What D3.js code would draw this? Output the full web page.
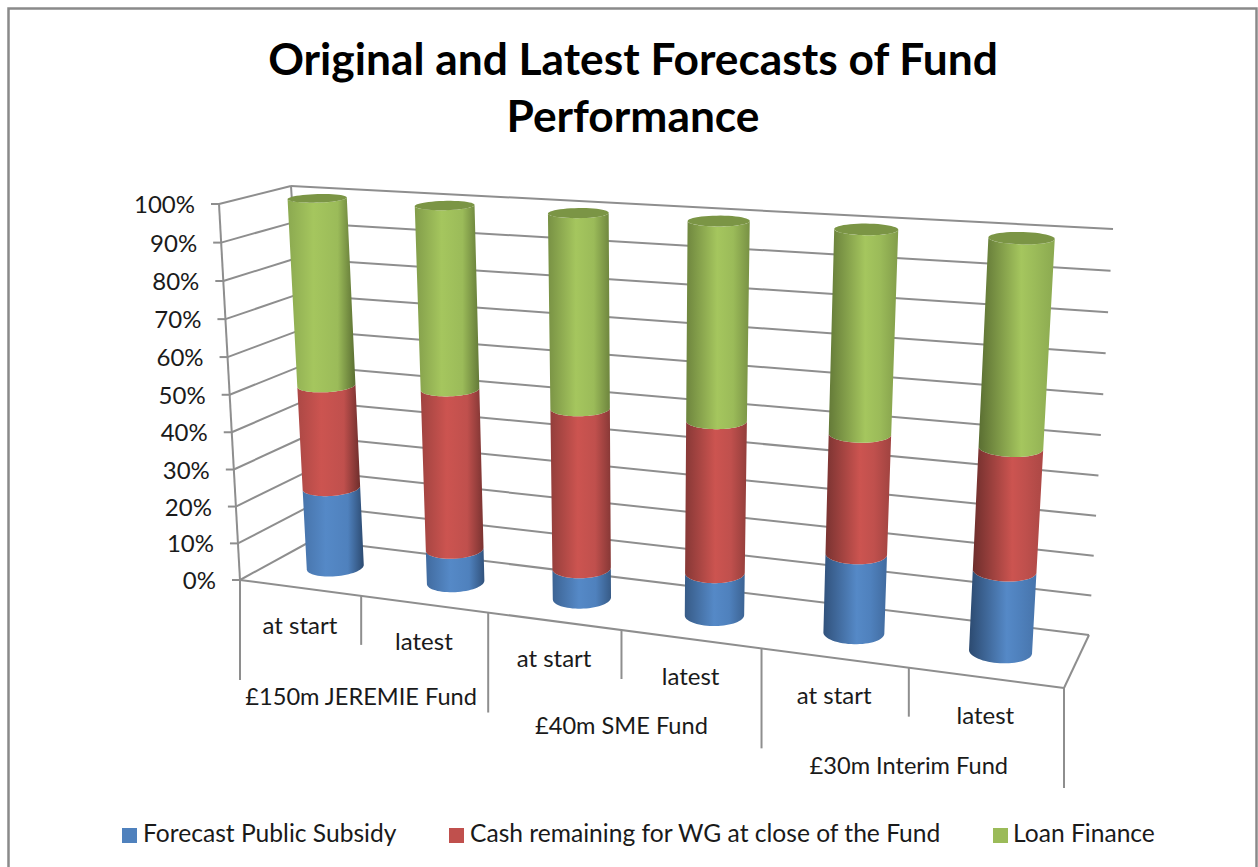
<!DOCTYPE html>
<html>
<head>
<meta charset="utf-8">
<script src="https://cdn.jsdelivr.net/npm/d3@7"></script>
<style>
  html, body { margin: 0; padding: 0; background: #fff; }
  text { font-family: Lato, "Open Sans", sans-serif; fill: #1a1a1a; }
</style>
</head>
<body>
<div id="chart-area"></div>
<script>
// values
var categories = ["at start", "latest", "at start", "latest", "at start", "latest"];
var groups = ["£150m JEREMIE Fund", "£40m SME Fund", "£30m Interim Fund"];
var seriesNames = ["Forecast Public Subsidy", "Cash remaining for WG at close of the Fund", "Loan Finance"];
var subsidy = [22, 9, 8, 11, 20, 20];
var cash = [28, 43, 42, 39, 30, 30];
var loan = [50, 48, 50, 50, 50, 50];
var valueTicks = [0, 10, 20, 30, 40, 50, 60, 70, 80, 90, 100];

var width = 1258, height = 867;

var svg = d3.select("#chart-area")
  .append("svg")
    .attr("width", width)
    .attr("height", height)
    .style("display", "block");

// corners of the 3d box on screen [u, v, depth]
var corners = {
  fb0: [240, 580], fb1: [1064, 688],
  bb0: [313, 540], bb1: [1089, 635],
  ft0: [219, 204], ft1: [1091, 257],
  bt0: [291, 186], bt1: [1113, 229]
};

var x = d3.scaleLinear().domain([0, 6]).range([0, 1]);
var y = d3.scaleLinear().domain([0, 100]).range([0, 1]);

// perspective squeeze along an edge
function warp(t, w) { return t / (t + (1 - t) * w); }
function mix(a, b, t) { return [a[0] + (b[0] - a[0]) * t, a[1] + (b[1] - a[1]) * t]; }

function project(cat, val, d) {
  var u = warp(x(cat), 1.16);
  var v = warp(y(val), 1.03);
  var front = mix(mix(corners.fb0, corners.fb1, u), mix(corners.ft0, corners.ft1, u), v);
  var back = mix(mix(corners.bb0, corners.bb1, u), mix(corners.bt0, corners.bt1, u), v);
  return mix(front, back, d);
}

var lineStyle = "#8e8e8e";
function seg(a, b, w) {
  svg.append("line")
    .attr("x1", a[0]).attr("y1", a[1])
    .attr("x2", b[0]).attr("y2", b[1])
    .attr("stroke", lineStyle)
    .attr("stroke-width", w || 2);
}

// chart frame
svg.append("path")
  .attr("d", "M8.5,867V8.5H1256.5V867")
  .attr("fill", "none")
  .attr("stroke", "#8a8a8a")
  .attr("stroke-width", 2.5);

// walls
valueTicks.forEach(function(t) {
  seg(project(0, t, 0), project(0, t, 1));
  seg(project(0, t, 1), project(6, t, 1));
  var p = project(0, t, 0);
  seg([p[0] - 8, p[1]], p);
  svg.append("text")
    .attr("x", p[0] - 24)
    .attr("y", p[1] + 9)
    .attr("text-anchor", "end")
    .attr("font-size", 24)
    .text(t + "%");
});
seg(project(0, 0, 0), project(0, 100, 0));
seg(project(0, 0, 1), project(0, 100, 1));
seg(project(0, 0, 0), project(6, 0, 0));
seg(project(6, 0, 0), project(6, 0, 1));

// category dividers under the floor
d3.range(0, 7).forEach(function(i) {
  var p = project(i, 0, 0);
  seg(p, [p[0], p[1] + (i % 2 == 0 ? 100 : 49)]);
});

categories.forEach(function(c, i) {
  var p = project(i + 0.5, 0, 0);
  svg.append("text")
    .attr("x", p[0])
    .attr("y", p[1] + 46)
    .attr("text-anchor", "middle")
    .attr("font-size", 24)
    .text(c);
});
var groupDrop = [109, 104, 106];
groups.forEach(function(g, i) {
  var p = project(i * 2 + 1, 0, 0);
  svg.append("text")
    .attr("x", p[0])
    .attr("y", p[1] + groupDrop[i])
    .attr("text-anchor", "middle")
    .attr("font-size", 23.6)
    .text(g);
});

// cylinders
var colors = ["#4f81bd", "#c0504d", "#9bbb59"];
var brights = ["#5589c7", "#cc5450", "#a5c65e"];
var darks = ["#2c4a70", "#6e2e2c", "#5a6e32"];
var topColor = "#7b9545";
var stacks = [subsidy, cash, loan];
var radius = 0.205;  // in category units
var depthRadius = 0.22;
var depthCentre = 0.51;
var defs = svg.append("defs");
var pathLine = d3.line();

function arc(i, val, from, to) {
  return d3.range(0, 49).map(function(k) {
    var a = from + (to - from) * k / 48;
    return project(i + 0.5 + radius * Math.cos(a), val, depthCentre - depthRadius * Math.sin(a));
  });
}

// front of the ellipse only, cut at its leftmost and rightmost points so the
// stacked pieces keep one clean outline
function frontArc(i, val) {
  var pts = arc(i, val, Math.PI + 0.7, -0.7);
  var l = d3.leastIndex(pts, function(p) { return p[0]; });
  var r = d3.greatestIndex(pts, function(p) { return p[0]; });
  return pts.slice(l, r + 1);
}

categories.forEach(function(c, i) {
  var base = 0;
  // light comes from the middle of the chart, so outer sides go dark
  var side = (i - 2.5) / 2.5;
  var peak = 0.47 + side * 0.09;
  var leftMix = 0.62 + side * 0.38;
  var rightMix = 0.62 - side * 0.38;
  stacks.forEach(function(series, s) {
    var id = "grad-" + i + "-" + s;
    var g = defs.append("linearGradient").attr("id", id);
    var dl = d3.interpolateRgb(colors[s], darks[s]);
    g.append("stop").attr("offset", "0%").attr("stop-color", dl(leftMix));
    g.append("stop").attr("offset", (peak * 100) + "%").attr("stop-color", brights[s]);
    g.append("stop").attr("offset", "74%").attr("stop-color", colors[s]);
    g.append("stop").attr("offset", "100%").attr("stop-color", dl(rightMix));
    var lower = frontArc(i, base);
    var upper = frontArc(i, base + series[i]).reverse();
    svg.append("path")
      .attr("d", pathLine(lower.concat(upper)) + "Z")
      .attr("fill", "url(#" + id + ")");
    base += series[i];
  });
  svg.append("path")
    .attr("d", pathLine(arc(i, base, 0, 2 * Math.PI)) + "Z")
    .attr("fill", topColor);
});

// title
svg.selectAll(".title")
  .data(["Original and Latest Forecasts of Fund", "Performance"])
  .enter().append("text")
    .attr("class", "title")
    .attr("x", 633)
    .attr("y", function(d, i) { return 75 + i * 57; })
    .attr("text-anchor", "middle")
    .attr("font-size", 44.3)
    .attr("font-weight", 700)
    .style("fill", "#000")
    .text(function(d) { return d; });

// legend
var legendX = [122, 449, 993];
seriesNames.forEach(function(n, i) {
  svg.append("rect")
    .attr("x", legendX[i]).attr("y", 828)
    .attr("width", 15).attr("height", 15)
    .attr("fill", colors[i]);
  svg.append("text")
    .attr("x", legendX[i] + (i == 2 ? 20 : 21))
    .attr("y", 842)
    .attr("font-size", 24.6)
    .text(n);
});
</script>
</body>
</html>
